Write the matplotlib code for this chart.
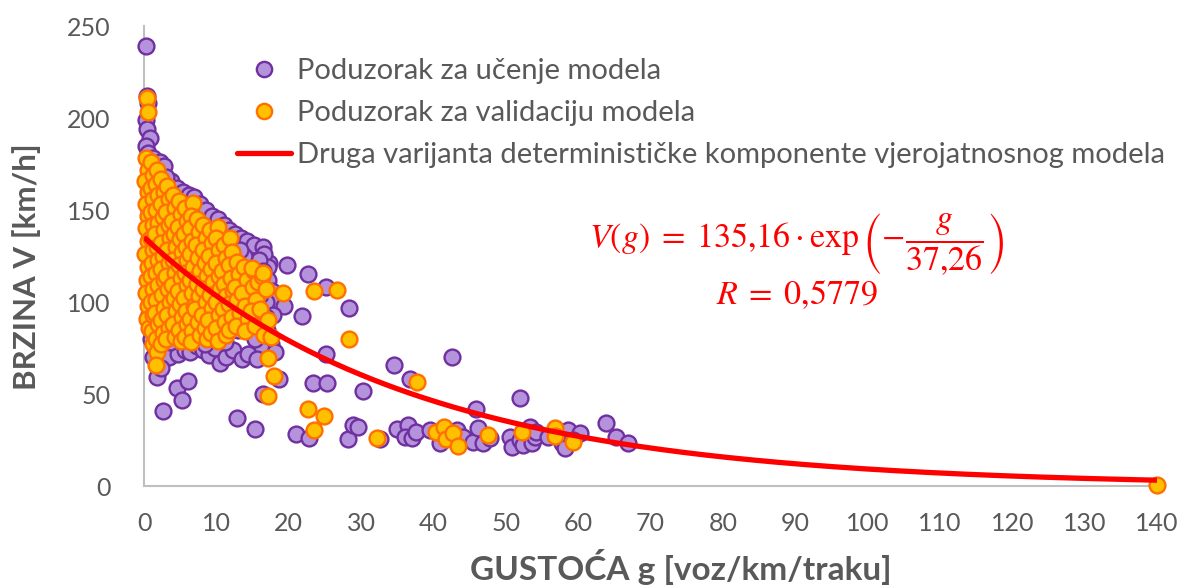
import numpy as np
import matplotlib
matplotlib.use("Agg")
import matplotlib.pyplot as plt
from matplotlib.lines import Line2D

# speed-density observations (g [voz/km/traku], V [km/h])
learn_points = [
    # dense low-density cluster
    (0.3, 239), (0.4, 212), (0.5, 208), (0.3, 199), (0.4, 194), (0.8, 189), (0.3, 185),
    (0.6, 181), (1.3, 178), (2.2, 176), (2.8, 174), (1.6, 171), (3.7, 166), (3.1, 168),
    (4.6, 162), (5.4, 160), (6.2, 158), (6.9, 157), (7.8, 153), (8.6, 150), (9.4, 147),
    (10.2, 145), (11.0, 142), (11.8, 139), (12.6, 137), (13.4, 135), (14.3, 133),
    (15.2, 131), (16.5, 130), (17.3, 121), (16.6, 126), (17.2, 119),
    (15.9, 123), (16.4, 117), (17.1, 112), (17.7, 106), (18.3, 101), (19.3, 98),
    (16.9, 100), (17.8, 93), (16.0, 89), (17.0, 85), (17.6, 77), (16.3, 74), (18.1, 73),
    (18.6, 58), (16.5, 50),
    (2.7, 73), (3.4, 70), (4.7, 72), (5.6, 74), (6.4, 73), (7.3, 76), (8.2, 74), (9.0, 71),
    (9.8, 75), (10.5, 67), (11.4, 70), (12.3, 74), (13.5, 69), (14.4, 72), (15.6, 69),
    (1.8, 59), (2.3, 64), (1.3, 70), (2.6, 41), (4.6, 53), (5.2, 47), (6.1, 57),
    (12.9, 37), (15.3, 31), (0.9, 80), (0.5, 92),
    (0.7, 150), (1.5, 140), (2.0, 120), (2.5, 100), (1.2, 110), (3.0, 150), (3.8, 130),
    (4.2, 110), (4.9, 90), (5.5, 140), (6.0, 120), (6.6, 100), (7.0, 80), (7.5, 140),
    (8.0, 115), (8.8, 95), (9.5, 130), (10.0, 110), (10.8, 90), (11.5, 125), (12.2, 105),
    (13.0, 85), (13.8, 125), (14.6, 100), (15.3, 80), (14.9, 112), (13.2, 128), (12.0, 88),
    (11.2, 78), (9.2, 82), (8.4, 77), (6.8, 88), (3.6, 78), (2.1, 85), (14.0, 110),
    (15.0, 92), (16.1, 104), (16.8, 92),
    # congested tail
    (19.8, 120), (22.7, 115.4), (25.2, 108.3), (28.3, 96.6), (21.8, 92.6), (25.2, 71.6),
    (34.5, 65.8), (42.6, 70.0), (36.8, 58.2), (23.4, 55.8), (25.3, 56.1), (30.2, 51.5),
    (21.0, 28.4), (22.8, 25.9), (28.2, 25.4), (28.9, 33.2), (29.6, 31.9), (32.6, 25.4),
    (34.9, 30.8), (36.5, 33.2), (36.1, 26.6), (37.0, 26.1), (37.6, 29.5), (39.5, 30.4),
    (40.9, 23.5), (43.2, 30.4), (44.1, 26.8), (45.5, 23.9), (46.2, 31.4), (45.9, 42.0),
    (46.9, 23.2), (47.8, 25.9), (52.0, 48.0), (50.6, 26.8), (50.8, 21.4), (52.0, 25.0),
    (52.4, 22.3), (53.3, 32.2), (53.6, 23.2), (54.0, 26.8), (54.2, 29.5), (55.9, 26.8),
    (57.7, 23.2), (58.2, 20.5), (58.6, 30.4), (60.3, 28.6), (59.3, 25.0), (63.8, 34.1),
    (65.3, 26.5), (66.9, 23.2),
]

valid_points = [
    (0.4, 211), (0.5, 203), (0.3, 178), (0.6, 172), (0.2, 166), (0.5, 160), (0.3, 153),
    (0.6, 147), (0.3, 140), (0.5, 133), (0.2, 126), (0.6, 119), (0.4, 112), (0.3, 105),
    (0.6, 98), (0.4, 91), (0.7, 86),
    (1.0, 176), (1.2, 169), (0.9, 162), (1.3, 156), (1.0, 149), (1.2, 142), (0.9, 135),
    (1.3, 128), (1.1, 121), (0.9, 114), (1.2, 107), (1.0, 100), (1.3, 93), (1.1, 84), (1.3, 77),
    (1.8, 172), (1.6, 164), (2.0, 158), (1.7, 150), (1.9, 143), (1.5, 137), (1.8, 130),
    (2.0, 123), (1.6, 116), (1.9, 109), (1.7, 101), (1.5, 94), (1.9, 88), (1.6, 80),
    (1.8, 73), (1.6, 66),
    (2.4, 167), (2.7, 160), (2.3, 153), (2.6, 146), (2.8, 139), (2.4, 132), (2.6, 125),
    (2.3, 118), (2.8, 112), (2.5, 104), (2.7, 97), (2.3, 90), (2.6, 83), (2.4, 77),
    (3.2, 163), (3.5, 156), (3.1, 149), (3.4, 142), (3.6, 135), (3.2, 128), (3.5, 121),
    (3.0, 114), (3.3, 107), (3.6, 100), (3.2, 93), (3.5, 86), (3.1, 80),
    (4.0, 158), (4.3, 151), (3.9, 144), (4.2, 137), (4.4, 130), (4.0, 123), (4.3, 116),
    (3.9, 109), (4.2, 102), (4.4, 95), (4.0, 88), (4.3, 81),
    (4.8, 155), (5.1, 148), (4.7, 141), (5.0, 134), (5.2, 127), (4.8, 120), (5.1, 113),
    (4.7, 106), (5.0, 99), (5.2, 92), (4.8, 85), (5.1, 79),
    (5.6, 151), (5.9, 144), (5.5, 137), (5.8, 130), (6.0, 123), (5.6, 116), (5.9, 109),
    (5.5, 102), (5.8, 95), (6.0, 88), (5.6, 81),
    (6.8, 154), (6.5, 147), (6.3, 140), (6.7, 133), (6.4, 126), (6.8, 119), (6.3, 112),
    (6.6, 105), (6.9, 98), (6.4, 91), (6.7, 84), (6.5, 78),
    (7.3, 145), (7.6, 138), (7.2, 131), (7.5, 124), (7.8, 117), (7.3, 110), (7.6, 103),
    (7.1, 96), (7.5, 89), (7.8, 82),
    (8.2, 142), (8.5, 135), (8.1, 128), (8.4, 121), (8.7, 114), (8.2, 107), (8.5, 100),
    (8.0, 93), (8.4, 86), (8.7, 80),
    (9.1, 139), (9.4, 132), (9.0, 125), (9.3, 118), (9.6, 111), (9.1, 104), (9.4, 97),
    (8.9, 90), (9.3, 83),
    (10.2, 141), (10.0, 135), (10.4, 128), (9.9, 121), (10.3, 114), (10.5, 107),
    (10.0, 100), (10.4, 93), (9.9, 86), (10.2, 79),
    (11.0, 131), (11.3, 124), (10.8, 117), (11.1, 110), (11.4, 103), (10.9, 96),
    (11.2, 89), (11.4, 82),
    (11.9, 135), (12.2, 127), (11.7, 120), (12.0, 113), (12.3, 106), (11.8, 99),
    (12.1, 92), (11.7, 85),
    (12.8, 122), (13.1, 115), (12.6, 108), (12.9, 101), (13.2, 94), (12.7, 87),
    (13.8, 119), (14.2, 112), (13.6, 105), (14.0, 98), (14.4, 91), (13.9, 84),
    (15.2, 117), (15.0, 108), (15.5, 101), (14.8, 95), (15.4, 87), (15.8, 111),
    (16.3, 114), (16.9, 107), (16.1, 96), (17.2, 90), (16.6, 82),
    (17.5, 80.8), (17.1, 69.4), (17.9, 59.8), (17.1, 48.9), (19.2, 104.7), (14.9, 118.3),
    (16.5, 115.6), (23.5, 106.2), (26.7, 106.5), (28.3, 79.7), (37.7, 56.7), (22.7, 41.8),
    (24.9, 38.2), (23.5, 30.4), (32.2, 25.9), (40.4, 29.5), (41.4, 32.2), (41.7, 25.4),
    (42.7, 28.7), (43.4, 21.7), (47.6, 27.7), (52.3, 29.5), (56.8, 31.4), (56.8, 27.2),
    (59.3, 24.1), (140.0, 0.5),
]

# deterministic component V(g) = V0 * exp(-g / g0)
v0 = 135.16
g0 = 37.26

x_ticks = list(range(0, 141, 10))
y_ticks = list(range(0, 251, 50))

GREY = "#595959"
PURPLE_FACE, PURPLE_EDGE = "#B493DC", "#7030A0"
ORANGE_FACE, ORANGE_EDGE = "#FFC000", "#FF7000"

plt.rcParams["font.family"] = ["Lato", "DejaVu Sans"]
plt.rcParams["mathtext.fontset"] = "stix"

fig = plt.figure(figsize=(11.89, 5.88), dpi=100)
ax = fig.add_axes([144 / 1189, 1 - 486 / 588, (1157 - 144) / 1189, (486 - 26) / 588])

lg, lv = zip(*learn_points)
vg, vv = zip(*valid_points)
ax.scatter(lg, lv, s=130, facecolor=PURPLE_FACE, edgecolor=PURPLE_EDGE,
           linewidth=1.7, zorder=3, clip_on=False)
ax.scatter(vg, vv, s=130, facecolor=ORANGE_FACE, edgecolor=ORANGE_EDGE,
           linewidth=1.7, zorder=4, clip_on=False)

g = np.linspace(0, 140, 400)
ax.plot(g, v0 * np.exp(-g / g0), color="#FF0000", lw=3.8, zorder=5,
        solid_capstyle="butt")

ax.set_xlim(0, 140)
ax.set_ylim(0, 250)
ax.set_xticks(x_ticks)
ax.set_yticks(y_ticks)
ax.tick_params(length=0, labelsize=18, labelcolor=GREY)
ax.tick_params(axis="x", pad=19)
ax.tick_params(axis="y", pad=24)
for side in ("top", "right"):
    ax.spines[side].set_visible(False)
for side in ("left", "bottom"):
    ax.spines[side].set_color("#BFBFBF")
    ax.spines[side].set_linewidth(1.5)

fig.text(681 / 1189, 1 - 567 / 588, "GUSTOĆA g [voz/km/traku]", ha="center",
         va="center", fontsize=24, fontweight="bold", color=GREY)
fig.text(27 / 1189, 1 - 267 / 588, "BRZINA V [km/h]", ha="center", va="center",
         rotation=90, fontsize=22.5, fontweight="bold", color=GREY)

handles = [
    Line2D([], [], ls="none", marker="o", ms=11, mfc=PURPLE_FACE, mec=PURPLE_EDGE, mew=1.7),
    Line2D([], [], ls="none", marker="o", ms=11, mfc=ORANGE_FACE, mec=ORANGE_EDGE, mew=1.7),
    Line2D([], [], color="#FF0000", lw=3.8, solid_capstyle="round"),
]
labels = [
    "Poduzorak za učenje modela",
    "Poduzorak za validaciju modela",
    "Druga varijanta determinističke komponente vjerojatnosnog modela",
]
fig.legend(handles, labels, loc="upper left",
           bbox_to_anchor=(237 / 1189, 1 - 58 / 588), bbox_transform=fig.transFigure,
           frameon=False, fontsize=21, labelcolor=GREY, handlelength=1.86,
           handletextpad=0.2, labelspacing=0.55, borderpad=0, borderaxespad=0)

fig.text(796 / 1189, 1 - 245 / 588,
         r"$V(g)\;=\;135{,}16 \cdot \exp\left(-\dfrac{g}{37{,}26}\right)$",
         ha="center", va="center", fontsize=24.5, color="#FF0000")
fig.text(797 / 1189, 1 - 295 / 588, r"$R\;=\;0{,}5779$",
         ha="center", va="center", fontsize=24.5, color="#FF0000")

fig.savefig("out.png", dpi=100)
